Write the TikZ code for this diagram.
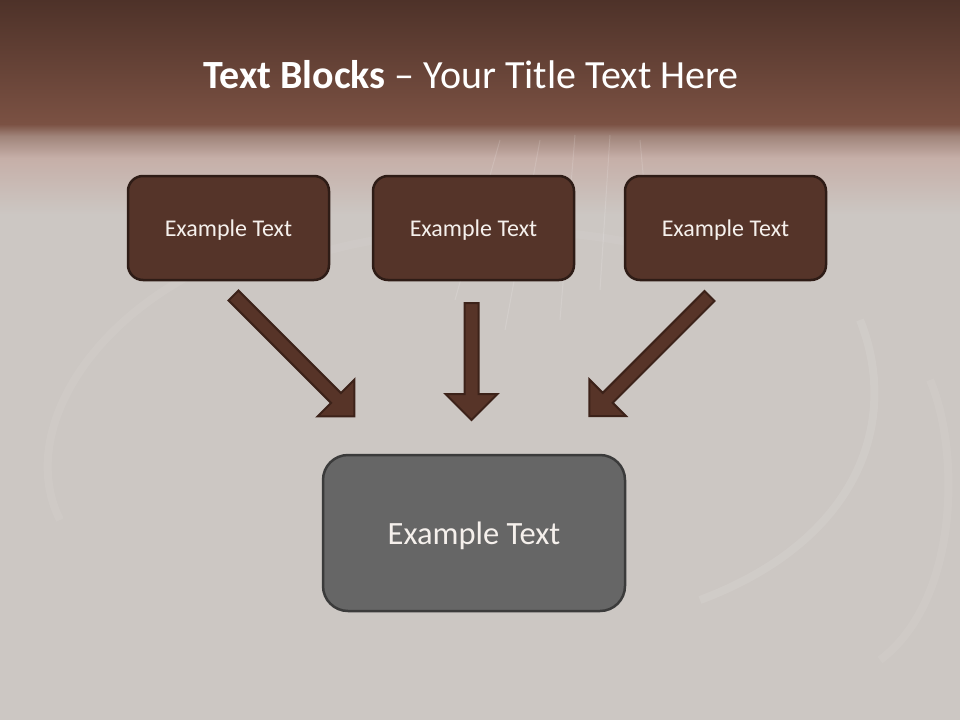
\documentclass[tikz,border=0pt]{standalone}
\usepackage{fontspec}
\setmainfont{Carlito}
\definecolor{bggrey}{HTML}{CCC7C3}
\definecolor{bandtop}{HTML}{4E3229}
\definecolor{bandbot}{HTML}{7B5143}
\definecolor{bandmid}{HTML}{A0847A}
\definecolor{bandpink}{HTML}{C6AFA8}
\definecolor{boxbrown}{HTML}{553429}
\definecolor{boxborder}{HTML}{2E1C16}
\definecolor{arrowfill}{HTML}{573428}
\definecolor{arrowborder}{HTML}{3C2219}
\definecolor{bigfill}{HTML}{666666}
\definecolor{bigborder}{HTML}{3B3B3B}
\definecolor{txt}{HTML}{F5F0EC}
\begin{document}
\begin{tikzpicture}[x=1pt,y=-1pt,
  smallbox/.style={rounded corners=15pt, fill=boxbrown, draw=boxborder, line width=2.5pt,
    minimum width=201pt, minimum height=104pt, inner sep=0pt, text=txt, text depth=0pt,
    font=\fontsize{24}{28}\selectfont},
  bigbox/.style={rounded corners=25pt, fill=bigfill, draw=bigborder, line width=2.5pt,
    minimum width=302pt, minimum height=156pt, inner sep=0pt, text=txt, text depth=0pt,
    font=\fontsize{32.5}{38}\selectfont},
  titletext/.style={text=white, font=\fontsize{40}{48}\selectfont, inner sep=0pt},
  ripple/.style={draw=white, line width=8pt, opacity=0.09},
  streak/.style={draw=white, line width=1pt, opacity=0.14},
  pics/barrow/.style={code={
    \filldraw[fill=arrowfill, draw=arrowborder, line width=2pt, line join=miter]
      (0,-7) -- (#1-26,-7) -- (#1-26,-26) -- (#1,0) -- (#1-26,26) -- (#1-26,7) -- (0,7) -- cycle;
  }}]
\useasboundingbox (0,0) rectangle (960,720);
% background
\fill[bggrey] (0,0) rectangle (960,720);
\shade[top color=bandtop, bottom color=bandbot] (0,0) rectangle (960,124);
\shade[top color=bandbot, bottom color=bandmid] (0,124) rectangle (960,136);
\shade[top color=bandmid, bottom color=bandpink] (0,136) rectangle (960,158);
\shade[top color=bandpink, bottom color=bggrey] (0,158) rectangle (960,215);
% ripples
\draw[ripple] (700,600) .. controls (860,540) and (900,420) .. (860,320);
\draw[ripple, opacity=0.06] (880,660) .. controls (960,600) and (960,450) .. (930,380);
\draw[ripple, opacity=0.06] (60,520) .. controls (20,440) and (80,330) .. (200,270);
\draw[ripple, opacity=0.05] (330,250) .. controls (420,225) and (560,225) .. (640,245);
\draw[streak] (500,140) -- (455,300);
\draw[streak] (540,140) -- (505,330);
\draw[streak] (575,135) -- (560,320);
\draw[streak] (610,135) -- (600,290);
\draw[streak] (640,140) -- (650,250);
% title
\node[titletext] (title) at (471,75) {\textbf{Text Blocks} – Your Title Text Here};
% boxes
\node[smallbox] (b1) at (228.5,228) {Example Text};
\node[smallbox] (b2) at (473.5,228) {Example Text};
\node[smallbox] (b3) at (725.5,228) {Example Text};
\node[bigbox] (big) at (474,533) {Example Text};
% arrows
\coordinate (a1) at (233.5,295.5);
\coordinate (a2) at (471.5,303);
\coordinate (a3) at (709.5,296);
\pic[rotate=-45] at (a1) {barrow=171};
\pic[rotate=-90] at (a2) {barrow=117};
\pic[rotate=-135] at (a3) {barrow=170};
\end{tikzpicture}
\end{document}
